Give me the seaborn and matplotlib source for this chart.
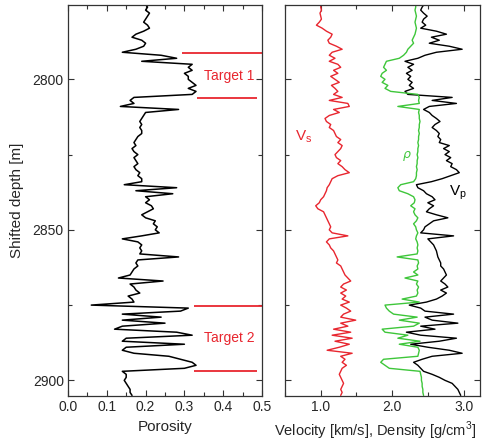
import numpy as np
import pandas as pd
import matplotlib
matplotlib.use("Agg")
import matplotlib.pyplot as plt
from matplotlib.ticker import MultipleLocator, FormatStrFormatter
import seaborn as sns

# Depth samples (1 m step)
depth = list(range(2775, 2906))

porosity = [
    0.200, 0.205, 0.200, 0.210, 0.205, 0.200, 0.195, 0.205, 0.210, 0.195,
    0.175, 0.165, 0.190, 0.200, 0.195, 0.175, 0.140, 0.240, 0.280, 0.190,
    0.320, 0.310, 0.320, 0.300, 0.310, 0.310, 0.320, 0.330, 0.310, 0.330,
    0.320, 0.170, 0.160, 0.170, 0.135, 0.285, 0.200, 0.195, 0.190, 0.185,
    0.190, 0.185, 0.190, 0.190, 0.180, 0.175, 0.170, 0.175, 0.165, 0.170,
    0.180, 0.170, 0.175, 0.180, 0.170, 0.175, 0.185, 0.180, 0.190, 0.190,
    0.145, 0.280, 0.175, 0.270, 0.200, 0.210, 0.200, 0.215, 0.220, 0.205,
    0.190, 0.200, 0.225, 0.220, 0.230, 0.225, 0.235, 0.190, 0.140, 0.180,
    0.190, 0.185, 0.190, 0.185, 0.285, 0.180, 0.175, 0.180, 0.170, 0.165,
    0.160, 0.130, 0.245, 0.160, 0.170, 0.175, 0.185, 0.155, 0.165, 0.170,
    0.060, 0.310, 0.290, 0.140, 0.240, 0.140, 0.250, 0.140, 0.120, 0.280,
    0.320, 0.150, 0.140, 0.300, 0.150, 0.140, 0.170, 0.260, 0.290, 0.320,
    0.330, 0.300, 0.140, 0.150, 0.150, 0.145, 0.150, 0.155, 0.160, 0.160,
    0.165,
]

vs = [
    1.00, 1.00, 1.01, 0.99, 1.00, 1.01, 0.98, 0.94, 1.02, 1.08,
    1.16, 1.14, 1.10, 1.12, 1.22, 1.30, 1.16, 1.12, 1.20, 1.12,
    1.24, 1.28, 1.18, 1.24, 1.14, 1.20, 1.26, 1.15, 1.20, 1.24,
    1.18, 1.30, 1.12, 1.38, 1.40, 1.18, 1.26, 1.12, 1.06, 1.08,
    1.14, 1.12, 1.18, 1.20, 1.22, 1.28, 1.24, 1.30, 1.28, 1.24,
    1.20, 1.22, 1.28, 1.24, 1.30, 1.34, 1.40, 1.24, 1.16, 1.14,
    1.12, 1.09, 1.08, 1.06, 1.04, 1.00, 0.98, 0.93, 0.96, 1.04,
    1.06, 1.08, 1.10, 1.12, 1.14, 1.12, 1.16, 1.38, 1.12, 1.08,
    1.12, 1.14, 1.18, 1.20, 1.22, 1.24, 1.22, 1.28, 1.30, 1.32,
    1.34, 1.38, 1.42, 1.32, 1.28, 1.36, 1.28, 1.35, 1.30, 1.40,
    1.28, 1.36, 1.42, 1.32, 1.28, 1.49, 1.28, 1.38, 1.18, 1.42,
    1.16, 1.44, 1.20, 1.40, 1.26, 1.09, 1.44, 1.28, 1.34, 1.30,
    1.36, 1.30, 1.28, 1.26, 1.28, 1.30, 1.32, 1.30, 1.28, 1.30,
    1.28,
]

density = [
    2.33, 2.33, 2.32, 2.33, 2.34, 2.33, 2.32, 2.33, 2.34, 2.33,
    2.32, 2.30, 2.28, 2.30, 2.26, 2.22, 2.20, 2.16, 2.10, 1.92,
    1.90, 1.88, 1.92, 1.86, 1.84, 1.90, 1.86, 1.94, 1.90, 1.98,
    2.36, 2.38, 2.37, 2.38, 2.08, 2.38, 2.37, 2.38, 2.38, 2.39,
    2.38, 2.38, 2.37, 2.38, 2.37, 2.37, 2.36, 2.37, 2.36, 2.36,
    2.35, 2.36, 2.35, 2.35, 2.34, 2.35, 2.34, 2.34, 2.33, 2.30,
    2.12, 2.08, 2.10, 2.22, 2.30, 2.32, 2.31, 2.26, 2.32, 2.30,
    2.32, 2.36, 2.34, 2.30, 2.33, 2.34, 2.36, 2.34, 2.33, 2.35,
    2.36, 2.35, 2.36, 2.35, 2.07, 2.36, 2.37, 2.35, 2.36, 2.30,
    2.36, 2.18, 2.36, 2.34, 2.37, 2.35, 2.36, 2.34, 2.14, 2.38,
    1.90, 1.92, 1.96, 2.02, 2.35, 2.10, 2.38, 2.30, 1.86, 1.90,
    2.22, 2.08, 2.39, 2.10, 2.36, 2.38, 2.37, 2.36, 1.88, 1.84,
    1.90, 1.96, 2.39, 2.40, 2.41, 2.41, 2.42, 2.42, 2.43, 2.43,
    2.44,
]

vp = [
    2.45, 2.42, 2.40, 2.44, 2.49, 2.44, 2.42, 2.47, 2.40, 2.62,
    2.76, 2.55, 2.66, 2.52, 2.80, 2.98, 2.62, 2.46, 2.36, 2.18,
    2.30, 2.22, 2.28, 2.20, 2.26, 2.22, 2.28, 2.24, 2.30, 2.18,
    2.22, 2.84, 2.56, 2.90, 2.52, 2.44, 2.52, 2.56, 2.62, 2.67,
    2.60, 2.56, 2.62, 2.66, 2.64, 2.68, 2.66, 2.80, 2.72, 2.80,
    2.74, 2.82, 2.76, 2.84, 2.82, 2.90, 2.94, 2.82, 2.70, 2.55,
    2.34, 2.36, 2.44, 2.48, 2.56, 2.60, 2.50, 2.58, 2.52, 2.48,
    2.62, 2.78, 2.58, 2.52, 2.46, 2.44, 2.40, 2.86, 2.50, 2.54,
    2.58, 2.60, 2.62, 2.63, 2.64, 2.66, 2.68, 2.68, 2.72, 2.74,
    2.76, 2.72, 2.68, 2.74, 2.78, 2.68, 2.76, 2.70, 2.62, 2.48,
    2.24, 2.40, 2.46, 2.86, 2.46, 2.56, 2.92, 2.40, 2.60, 2.20,
    2.40, 2.90, 2.66, 2.26, 2.50, 2.80, 2.98, 2.56, 2.42, 2.30,
    2.36, 2.40, 2.44, 2.56, 2.66, 2.74, 2.84, 2.88, 2.92, 2.94,
    2.96,
]

# Target zone markers: (depth, porosity where the line starts)
target_tops = [2791.1, 2875.3]
target_bases = [2806.1, 2896.9]
target_top_start = [0.295, 0.324]
target_base_start = [0.333, 0.324]
target_names = ["Target 1", "Target 2"]
target_label_depth = [2799.0, 2886.0]

df = pd.DataFrame({"depth": depth, "porosity": porosity, "vs": vs,
                   "density": density, "vp": vp})

sns.set_style("ticks")
plt.rcParams["font.family"] = ["Liberation Sans", "DejaVu Sans"]
plt.rcParams["mathtext.fontset"] = "custom"
plt.rcParams["mathtext.rm"] = "Liberation Sans"

RED = "#e8262f"
GREEN = "#3ec63a"

fig = plt.figure(figsize=(4.85, 4.42), dpi=100)
ax1 = fig.add_axes([68 / 485, 1 - 396 / 442, 194 / 485, 391 / 442])
ax2 = fig.add_axes([285 / 485, 1 - 396 / 442, 195 / 485, 391 / 442])

# Porosity log
sns.lineplot(data=df, x="porosity", y="depth", orient="y", sort=False,
             estimator=None, color="black", lw=1.1, ax=ax1)
for i in range(len(target_names)):
    ax1.hlines(target_tops[i], target_top_start[i], 0.5, color=RED, lw=1.3)
    ax1.hlines(target_bases[i], target_base_start[i], 0.488, color=RED, lw=1.3)
    ax1.text(0.415, target_label_depth[i], target_names[i], color=RED,
             fontsize=10, ha="center", va="center")

# Velocity / density logs
sns.lineplot(data=df, x="vs", y="depth", orient="y", sort=False,
             estimator=None, color=RED, lw=1.0, ax=ax2)
sns.lineplot(data=df, x="vp", y="depth", orient="y", sort=False,
             estimator=None, color="black", lw=1.0, ax=ax2)
sns.lineplot(data=df, x="density", y="depth", orient="y", sort=False,
             estimator=None, color=GREEN, lw=1.0, ax=ax2)
ax2.text(0.76, 2819, r"V$_\mathregular{s}$", color=RED, fontsize=11,
         ha="center", va="center")
ax2.text(2.2, 2825.5, r"$\rho$", color=GREEN, fontsize=9,
         ha="center", va="center")
ax2.text(2.92, 2837.5, r"V$_\mathregular{p}$", color="black", fontsize=11,
         ha="center", va="center")

for ax in (ax1, ax2):
    ax.set_ylim(2905.2, 2775.3)
    ax.yaxis.set_major_locator(MultipleLocator(50))
    ax.yaxis.set_minor_locator(MultipleLocator(25))
    ax.tick_params(which="both", direction="in", top=True, right=True,
                   labelsize=10, color="#333333", width=0.8)
    ax.tick_params(which="major", length=4, pad=3)
    ax.tick_params(which="minor", length=3)
    for s in ax.spines.values():
        s.set_color("#333333")
        s.set_linewidth(0.9)

ax1.set_xlim(0, 0.5)
ax1.xaxis.set_major_locator(MultipleLocator(0.1))
ax1.xaxis.set_minor_locator(MultipleLocator(0.05))
ax1.xaxis.set_major_formatter(FormatStrFormatter("%.1f"))
ax1.set_xlabel("Porosity", fontsize=11, labelpad=4)
ax1.set_ylabel("Shifted depth [m]", fontsize=11, labelpad=6)

ax2.set_xlim(0.5, 3.23)
ax2.xaxis.set_major_locator(MultipleLocator(1.0))
ax2.xaxis.set_minor_locator(MultipleLocator(0.5))
ax2.xaxis.set_major_formatter(FormatStrFormatter("%.1f"))
ax2.set_yticklabels([])
ax2.set_ylabel("")
ax2.set_xlabel(r"Velocity [km/s], Density [g/cm$^\mathregular{3}$]",
               fontsize=10.5, labelpad=4)
ax2.xaxis.label.set_x(0.46)

fig.savefig("out.png", dpi=100)
